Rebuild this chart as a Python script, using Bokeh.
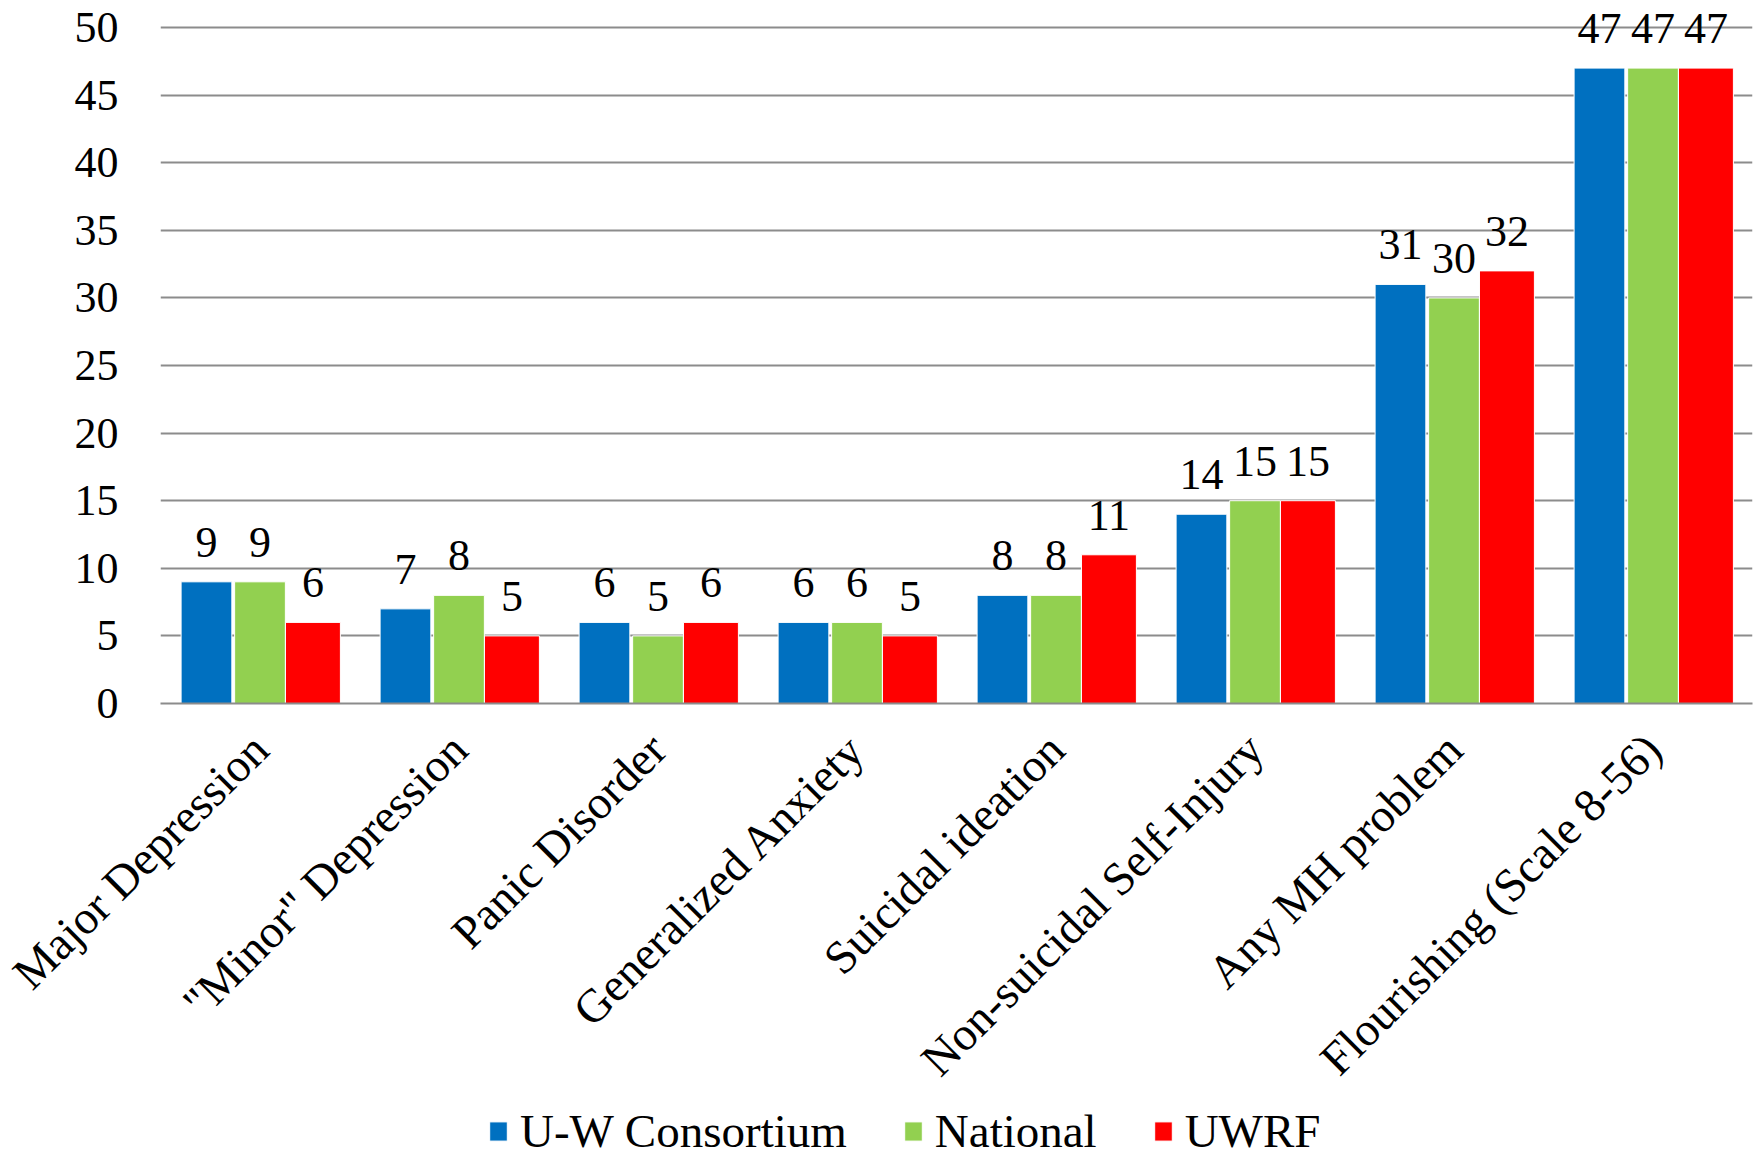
from bokeh.plotting import figure
from bokeh.models import ColumnDataSource, FactorRange, LabelSet, Legend, LegendItem, FixedTicker, Range1d
from bokeh.layouts import column
from bokeh.embed import file_html
from bokeh.resources import INLINE
from bokeh.transform import dodge
import math

categories = ["Major Depression", "\"Minor\" Depression", "Panic Disorder", "Generalized Anxiety",
              "Suicidal ideation", "Non-suicidal Self-Injury", "Any MH problem", "Flourishing (Scale 8-56)"]
uw_consortium = [9, 7, 6, 6, 8, 14, 31, 47]
national = [9, 8, 5, 6, 8, 15, 30, 47]
uwrf = [6, 5, 6, 5, 11, 15, 32, 47]
series_names = ["U-W Consortium", "National", "UWRF"]
colors = ["#0070C0", "#92D050", "#FF0000"]
y_ticks = [0, 5, 10, 15, 20, 25, 30, 35, 40, 45, 50]

FONT = "Liberation Serif"

src = ColumnDataSource(dict(cat=categories, uw=uw_consortium, nat=national, rf=uwrf,
                            uw_t=[str(v) for v in uw_consortium],
                            nat_t=[str(v) for v in national],
                            rf_t=[str(v) for v in uwrf]))

p = figure(x_range=FactorRange(*categories), y_range=(0, 52), width=1754, height=1107,
           output_backend="svg", toolbar_location=None, min_border_left=160,
           min_border_top=0, min_border_right=2, min_border_bottom=0)
p.outline_line_color = None
p.background_fill_color = "white"

offsets = [-0.269, 0.0, 0.266]
widths = [0.255, 0.255, 0.276]
fields = ["uw", "nat", "rf"]
for f, off, w, c in zip(fields, offsets, widths, colors):
    p.vbar(x=dodge("cat", off, range=p.x_range), top=f, width=w, source=src,
           fill_color=c, line_color="white", line_width=1)
    lab = LabelSet(x=dodge("cat", off, range=p.x_range), y=f, text=f + "_t", source=src,
                   text_align="center", text_baseline="alphabetic", y_offset=25,
                   text_font=FONT, text_font_size="44px", text_color="black")
    p.add_layout(lab)

p.yaxis.ticker = FixedTicker(ticks=y_ticks)
p.yaxis.axis_line_color = None
p.yaxis.major_tick_line_color = None
p.yaxis.minor_tick_line_color = None
p.yaxis.major_label_text_font = FONT
p.yaxis.major_label_text_font_size = "44px"
p.yaxis.major_label_text_color = "black"
p.yaxis.major_label_standoff = 36

p.ygrid.ticker = FixedTicker(ticks=y_ticks)
p.ygrid.grid_line_color = "#8c8c8c"
p.ygrid.grid_line_width = 2
p.xgrid.grid_line_color = None

p.xaxis.axis_line_color = "#8c8c8c"
p.xaxis.axis_line_width = 2
p.xaxis.major_tick_line_color = None
p.xaxis.minor_tick_line_color = None
p.xaxis.major_label_orientation = math.pi / 4
p.xaxis.major_label_text_font = FONT
p.xaxis.major_label_text_font_size = "47px"
p.xaxis.major_label_text_color = "black"
p.xaxis.major_label_standoff = 32
p.x_range.range_padding = 0
p.x_range.group_padding = 0

# legend strip below the chart (same series, drawn outside its visible y-range)
p2 = figure(width=1754, height=50, x_range=p.x_range, y_range=Range1d(1000, 1001),
            output_backend="svg", toolbar_location=None, min_border=0)
p2.axis.visible = False
p2.grid.grid_line_color = None
p2.outline_line_color = None
legend_renderers = []
for f, off, w, c in zip(fields, offsets, widths, colors):
    legend_renderers.append(p2.vbar(x=dodge("cat", off, range=p.x_range), top=f, width=w, source=src,
                                    fill_color=c, line_color="white", line_width=1))
legend = Legend(items=[LegendItem(label=n, renderers=[r]) for n, r in zip(series_names, legend_renderers)],
                orientation="horizontal", location=(327, -1),
                label_text_font=FONT, label_text_font_size="47px", label_text_color="black",
                glyph_width=22, glyph_height=24, spacing=55, label_standoff=11,
                border_line_color=None, background_fill_alpha=0, margin=0, padding=0)
p2.add_layout(legend)

open("out.html", "w").write(file_html(column(p, p2, spacing=0), INLINE))
